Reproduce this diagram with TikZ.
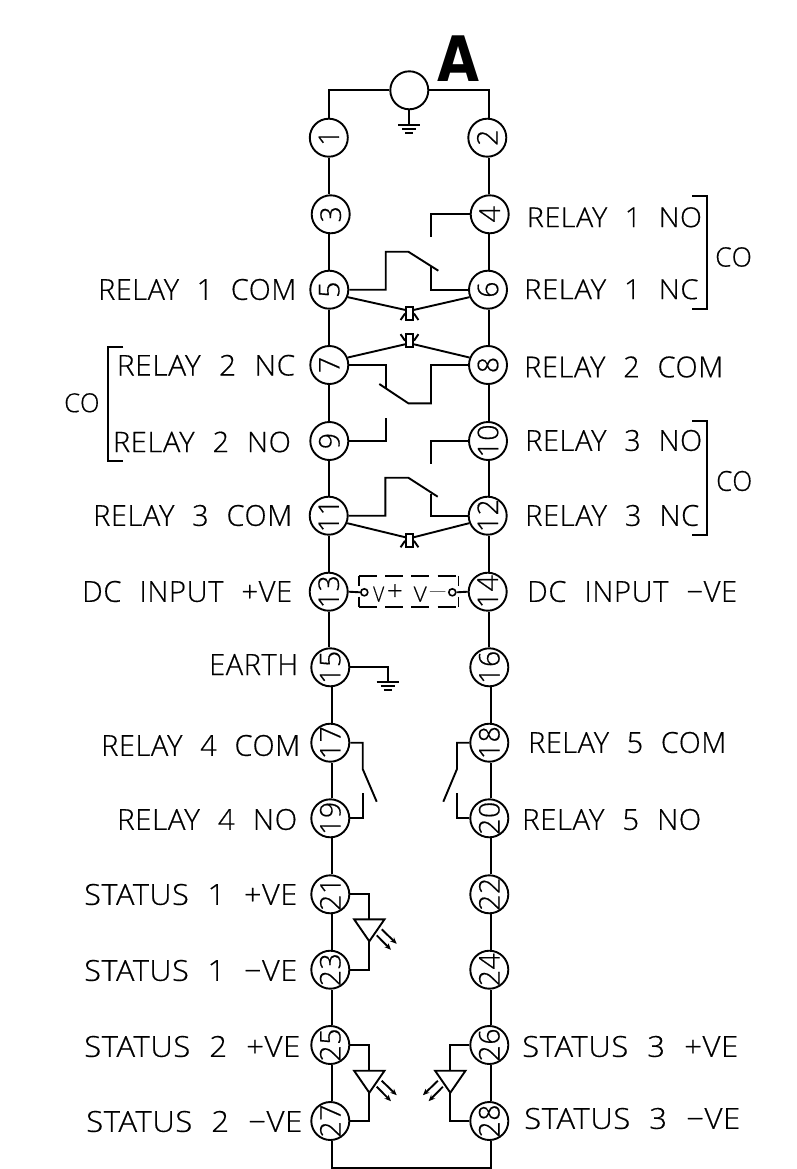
\documentclass[tikz,border=0pt]{standalone}
\usepackage{fontspec}
\usepackage{graphicx}
\setmainfont{Open Sans}[UprightFont=* Light,WordSpace=2.2,LetterSpace=2,FakeBold=0.5]
\newfontfamily\headfont{DejaVu Sans Bold}
\usetikzlibrary{arrows.meta}
\newcommand{\lab}[6]{\node[lab] (#1) at (#2,#3) {\resizebox{#4pt}{#5pt}{\fontsize{28}{30}\selectfont #6}};}
\tikzset{
  wire/.style={line width=1.9pt,line join=miter},
  pin/.style={circle,draw,line width=1.9pt,minimum size=38pt,inner sep=0pt},
  pinnum/.style={rotate=90,inner sep=0pt,font=\fontsize{28.5}{30}\selectfont},
  lab/.style={anchor=west,inner sep=0pt},
  fuse/.style={rectangle,draw,line width=1.9pt,minimum width=7pt,minimum height=13pt,inner sep=0pt},
  smallcirc/.style={circle,draw,line width=1.6pt,minimum size=7pt,inner sep=0pt},
  ledarrow/.style={line width=1.9pt,-{Stealth[length=6.5pt,width=5.5pt]}},
  pics/gndsym/.style={code={
    \draw[wire] (-11,0) -- (11,0);
    \draw[wire] (-7,4.3) -- (7,4.3);
    \draw[wire] (-4,8.3) -- (4,8.3);
  }},
  pics/ledsym/.style={code={
    \draw[wire] (-15.2,0) -- (15.2,0) -- (0,22) -- cycle;
    \coordinate (-top) at (0,0);
    \coordinate (-apex) at (0,22);
    \draw[ledarrow] (12.4,10) -- (27.4,24.5);
    \draw[ledarrow] (7.4,16) -- (21.7,30.5);
  }},
}
\begin{document}
\begin{tikzpicture}[x=1pt,y=-1pt]
\useasboundingbox (0,0) rectangle (796,1169);
\coordinate (L) at (329.3,0);
\coordinate (R) at (489,0);
\coordinate (LL) at (331.7,0);
\coordinate (RR) at (491,0);
\coordinate (B) at (0,1167.7);
% pins
\foreach \i/\x/\y in {1/328.8/137.7,2/487.3/137.7,3/330.7/214.3,4/489.7/214.3,
  5/329.3/289.7,6/488/289.7,7/329.3/365,8/488/365,9/329.3/441,10/488/441,
  11/328.7/515.7,12/487.7/515.7,13/328.7/591.7,14/487.7/591.7,15/330.3/667.3,16/489.3/667.3,
  17/330.3/742.7,18/489.3/742.7,19/330.3/818.3,20/489.3/818.3,21/330.3/894.3,22/489.3/894.3,
  23/330.3/969.7,24/489.3/969.7,25/330.3/1045,26/489.3/1045,27/330.3/1121,28/489.3/1121}{
  \node[pin] (n\i) at (\x,\y) {};
  \node[pinnum] (t\i) at (n\i.center) {\i};
}
\node[pin] (g) at (409.3,90.3) {};
% column wires
\foreach \a/\b/\c in {1/3/L,3/5/L,5/7/L,7/9/L,9/11/L,11/13/L,13/15/L,
  15/17/LL,17/19/LL,19/21/LL,21/23/LL,23/25/LL,25/27/LL,
  2/4/R,4/6/R,6/8/R,8/10/R,10/12/R,12/14/R,14/16/R,
  16/18/RR,18/20/RR,20/22/RR,22/24/RR,24/26/RR,26/28/RR}{
  \draw[wire] (n\a.south -| \c) -- (n\b.north -| \c);
}
\draw[wire] (n1.north -| L) |- (g.west);
\draw[wire] (g.east) -| (n2.north -| R);
\draw[wire] (n27.south -| LL) -- (LL |- B) -- (RR |- B) -- (n28.south -| RR);
% earth at top
\coordinate (g1) at (409.3,125);
\draw[wire] (g.south) -- (g1);
\pic at (g1) {gndsym};
% relay 1
\coordinate (r4e) at (431.3,237.3);
\draw[wire] (n4.west) -| (r4e);
\coordinate (r5a) at (385.7,251.7);
\coordinate (r5b) at (408.3,251.7);
\coordinate (r5c) at (438.3,270.7);
\draw[wire] (n5.east) -| (r5a) -- (r5b) -- (r5c);
\coordinate (r6e) at (431.3,266);
\draw[wire] (n6.west) -| (r6e);
% relay 2
\coordinate (r7a) at (385.7,388.3);
\draw[wire] (n7.east) -| (r7a);
\coordinate (r8a) at (431,403.3);
\coordinate (r8b) at (408.3,403.3);
\coordinate (r8c) at (379.3,384);
\draw[wire] (n8.west) -| (r8a) -- (r8b) -- (r8c);
\coordinate (r9e) at (385.7,418.3);
\draw[wire] (n9.east) -| (r9e);
\coordinate (r10e) at (431.3,464);
\draw[wire] (n10.west) -| (r10e);
% relay 3
\coordinate (r11a) at (385.3,477.7);
\coordinate (r11b) at (408.3,477.7);
\coordinate (r11c) at (437.7,496.7);
\draw[wire] (n11.east) -| (r11a) -- (r11b) -- (r11c);
\coordinate (r12e) at (431.3,494);
\draw[wire] (n12.west) -| (r12e);
% fuses
\node[fuse] (f1) at (409.5,313.5) {};
\draw[wire] (n5.-22) -- (f1.141);
\draw[wire] (n6.-158) -- (f1.39);
\draw[wire] (f1.west) -- ++(-4.5,6.5);
\draw[wire] (f1.east) -- ++(4.5,6.5);
\node[fuse] (f2) at (409.5,340.7) {};
\draw[wire] (n7.22) -- (f2.-141);
\draw[wire] (n8.158) -- (f2.-39);
\draw[wire] (f2.west) -- ++(-4.5,-6.5);
\draw[wire] (f2.east) -- ++(4.5,-6.5);
\node[fuse] (f3) at (409.5,540.8) {};
\draw[wire] (n11.-22) -- (f3.141);
\draw[wire] (n12.-158) -- (f3.39);
\draw[wire] (f3.west) -- ++(-4.5,6.5);
\draw[wire] (f3.east) -- ++(4.5,6.5);
% DC box
\node[inner sep=0pt,minimum width=99.3pt,minimum height=30.7pt] (dc) at (408.65,591.35) {};
\draw[wire,dash pattern=on 18pt off 8.3pt] (dc.north west) -- (dc.north east);
\draw[wire,dash pattern=on 18pt off 8.3pt] (dc.south west) -- (dc.south east);
\draw[wire,dash pattern=on 10pt off 10.7pt] (dc.north west) -- (dc.south west);
\draw[wire,dash pattern=on 10pt off 10.7pt] (dc.north east) -- (dc.south east);
\node[smallcirc] (s1) at (364.3,592.3) {};
\node[smallcirc] (s2) at (452.3,592.3) {};
\draw[wire] (n13.east) -- (s1.west);
\draw[wire] (s2.east) -- (n14.west);
\lab{v1}{373}{594.2}{11}{15}{V}
\lab{pl}{386.7}{592.3}{16}{16}{+}
\lab{v2}{413.5}{594.2}{13}{15}{V}
\lab{mi}{428}{592.3}{19}{1.9}{−}
% earth 15
\coordinate (g2) at (387.7,681.7);
\draw[wire] (n15.east) -| (g2);
\pic at (g2) {gndsym};
% relays 4,5
\coordinate (r17a) at (362.7,769);
\coordinate (r17b) at (376.7,801.7);
\draw[wire] (n17.east) -| (r17a) -- (r17b);
\coordinate (r19e) at (362.7,793.3);
\draw[wire] (n19.east) -| (r19e);
\coordinate (r18a) at (457,769);
\coordinate (r18b) at (443.3,801.7);
\draw[wire] (n18.west) -| (r18a) -- (r18b);
\coordinate (r20e) at (457,793.3);
\draw[wire] (n20.west) -| (r20e);
% LEDs
\pic (led1) at (369.3,919.3) {ledsym};
\draw[wire] (n21.east) -| (led1-top);
\draw[wire] (n23.east) -| (led1-apex);
\pic (led2) at (369.3,1070.7) {ledsym};
\draw[wire] (n25.east) -| (led2-top);
\draw[wire] (n27.east) -| (led2-apex);
\pic[xscale=-1] (led3) at (450.3,1070.7) {ledsym};
\draw[wire] (n26.west) -| (led3-top);
\draw[wire] (n28.west) -| (led3-apex);
% brackets
\coordinate (b1a) at (692,196); \coordinate (b1b) at (707.3,196);
\coordinate (b1c) at (707.3,309); \coordinate (b1d) at (692,309);
\draw[wire] (b1a) -- (b1b) -- (b1c) -- (b1d);
\coordinate (b2a) at (123.3,346.7); \coordinate (b2b) at (107.7,346.7);
\coordinate (b2c) at (107.7,460.7); \coordinate (b2d) at (123.3,460.7);
\draw[wire] (b2a) -- (b2b) -- (b2c) -- (b2d);
\coordinate (b3a) at (692,421); \coordinate (b3b) at (707.3,421);
\coordinate (b3c) at (707.3,535); \coordinate (b3d) at (692,535);
\draw[wire] (b3a) -- (b3b) -- (b3c) -- (b3d);
% labels
\node[lab] (head) at (437,58.8) {\resizebox{42pt}{45.7pt}{\headfont A}};
\lab{l1}{526.7}{217.3}{175}{20}{RELAY 1 NO}
\lab{l2}{524}{289.3}{174.3}{20}{RELAY 1 NC}
\lab{co1}{715}{257}{36.7}{19.4}{CO}
\lab{l3}{98}{289.5}{198}{21}{RELAY 1 COM}
\lab{l4}{116.7}{365.3}{178.3}{20.7}{RELAY 2 NC}
\lab{l5}{112.7}{442}{178}{20.6}{RELAY 2 NO}
\lab{co2}{64}{402.8}{35.3}{19}{CO}
\lab{l6}{524}{367}{199}{21}{RELAY 2 COM}
\lab{l7}{525}{440.5}{177}{21}{RELAY 3 NO}
\lab{co3}{716}{481}{36}{20}{CO}
\lab{l8}{525}{515.5}{174}{21}{RELAY 3 NC}
\lab{l9}{93}{515.5}{199}{21}{RELAY 3 COM}
\lab{l10}{82}{591.5}{210}{21}{DC INPUT +VE}
\lab{l11}{527}{591.5}{210}{21}{DC INPUT −VE}
\lab{l12}{209}{664.5}{89}{21}{EARTH}
\lab{l13}{101}{745.5}{199}{21}{RELAY 4 COM}
\lab{l14}{528}{742.5}{198}{21}{RELAY 5 COM}
\lab{l15}{117}{819.5}{180}{21}{RELAY 4 NO}
\lab{l16}{522}{819.5}{179}{21}{RELAY 5 NO}
\lab{l17}{84}{894.5}{213}{21}{STATUS 1 +VE}
\lab{l18}{84}{970.5}{213}{21}{STATUS 1 −VE}
\lab{l19}{84}{1046.5}{216}{21}{STATUS 2 +VE}
\lab{l20}{86}{1121.5}{216}{21}{STATUS 2 −VE}
\lab{l21}{522}{1046.5}{216}{21}{STATUS 3 +VE}
\lab{l22}{524}{1118.5}{216}{21}{STATUS 3 −VE}
\end{tikzpicture}
\end{document}
